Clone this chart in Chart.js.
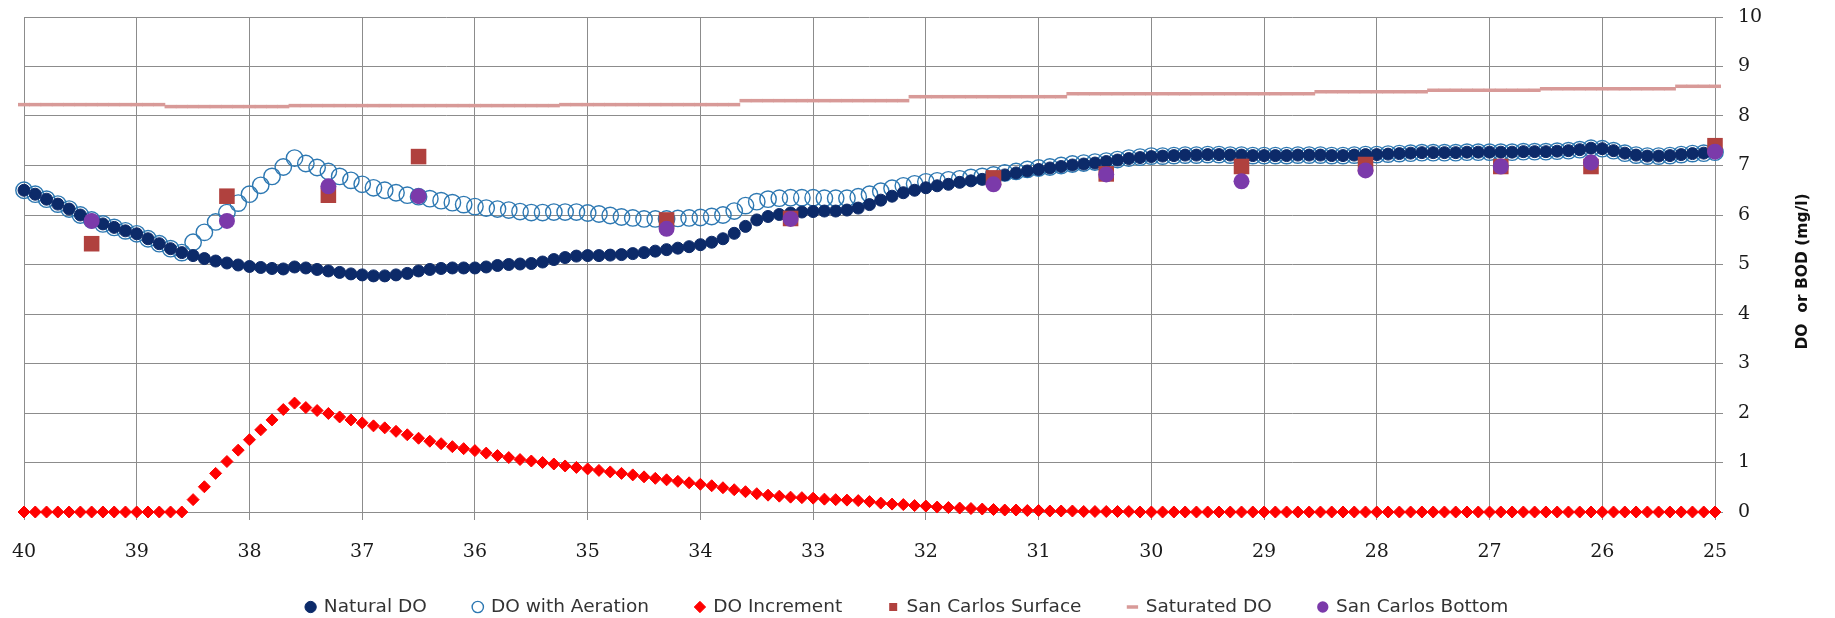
<!DOCTYPE html>
<html>
<head>
<meta charset="utf-8">
<script src="https://cdn.jsdelivr.net/npm/chart.js@4.4.1/dist/chart.umd.min.js"></script>
<style>
html,body{margin:0;padding:0;background:#fff;}
#wrap{width:1835px;height:618px;position:relative;}
canvas{display:block;}
</style>
</head>
<body>
<div id="wrap"><canvas id="c" width="1835" height="618"></canvas></div>
<script>
// River distance (km) of every modelled point, upstream (40) to downstream (25)
const km = [
  40.0,39.9,39.8,39.7,39.6,39.5,39.4,39.3,39.2,39.1,
  39.0,38.9,38.8,38.7,38.6,38.5,38.4,38.3,38.2,38.1,
  38.0,37.9,37.8,37.7,37.6,37.5,37.4,37.3,37.2,37.1,
  37.0,36.9,36.8,36.7,36.6,36.5,36.4,36.3,36.2,36.1,
  36.0,35.9,35.8,35.7,35.6,35.5,35.4,35.3,35.2,35.1,
  35.0,34.9,34.8,34.7,34.6,34.5,34.4,34.3,34.2,34.1,
  34.0,33.9,33.8,33.7,33.6,33.5,33.4,33.3,33.2,33.1,
  33.0,32.9,32.8,32.7,32.6,32.5,32.4,32.3,32.2,32.1,
  32.0,31.9,31.8,31.7,31.6,31.5,31.4,31.3,31.2,31.1,
  31.0,30.9,30.8,30.7,30.6,30.5,30.4,30.3,30.2,30.1,
  30.0,29.9,29.8,29.7,29.6,29.5,29.4,29.3,29.2,29.1,
  29.0,28.9,28.8,28.7,28.6,28.5,28.4,28.3,28.2,28.1,
  28.0,27.9,27.8,27.7,27.6,27.5,27.4,27.3,27.2,27.1,
  27.0,26.9,26.8,26.7,26.6,26.5,26.4,26.3,26.2,26.1,
  26.0,25.9,25.8,25.7,25.6,25.5,25.4,25.3,25.2,25.1,
  25.0
];

const naturalDO = [
  6.50,6.42,6.32,6.22,6.12,6.00,5.90,5.82,5.75,5.68,
  5.62,5.52,5.42,5.32,5.24,5.18,5.12,5.07,5.03,4.99,
  4.96,4.94,4.92,4.91,4.95,4.93,4.90,4.87,4.84,4.81,
  4.79,4.77,4.77,4.79,4.82,4.87,4.90,4.92,4.93,4.93,
  4.93,4.95,4.98,5.00,5.01,5.02,5.05,5.10,5.14,5.17,
  5.18,5.18,5.19,5.20,5.22,5.24,5.27,5.30,5.33,5.36,
  5.40,5.45,5.52,5.63,5.77,5.90,5.97,6.01,6.04,6.06,
  6.07,6.08,6.08,6.10,6.14,6.21,6.30,6.38,6.45,6.50,
  6.55,6.59,6.62,6.66,6.69,6.72,6.76,6.81,6.85,6.89,
  6.92,6.95,6.98,7.01,7.03,7.05,7.08,7.11,7.14,7.16,
  7.18,7.19,7.20,7.21,7.21,7.22,7.22,7.21,7.21,7.20,
  7.20,7.20,7.20,7.21,7.21,7.21,7.20,7.20,7.21,7.22,
  7.22,7.23,7.24,7.25,7.26,7.26,7.26,7.26,7.27,7.27,
  7.27,7.27,7.27,7.28,7.28,7.28,7.29,7.30,7.32,7.35,
  7.34,7.30,7.25,7.21,7.19,7.19,7.20,7.22,7.24,7.25,
  7.27
];

const aerationDO = [
  6.50,6.42,6.32,6.22,6.12,6.00,5.90,5.82,5.75,5.68,
  5.62,5.52,5.42,5.32,5.24,5.45,5.65,5.86,6.05,6.24,
  6.42,6.60,6.78,6.97,7.15,7.04,6.96,6.88,6.78,6.70,
  6.62,6.55,6.50,6.45,6.40,6.37,6.33,6.29,6.25,6.21,
  6.17,6.14,6.12,6.10,6.07,6.05,6.05,6.06,6.06,6.06,
  6.04,6.02,5.99,5.96,5.94,5.92,5.92,5.92,5.93,5.94,
  5.95,5.97,6.00,6.08,6.19,6.27,6.32,6.34,6.35,6.35,
  6.35,6.34,6.34,6.34,6.37,6.42,6.48,6.54,6.59,6.63,
  6.67,6.69,6.71,6.73,6.76,6.78,6.81,6.85,6.88,6.92,
  6.95,6.97,7.00,7.03,7.05,7.07,7.09,7.12,7.15,7.17,
  7.19,7.19,7.20,7.21,7.21,7.22,7.22,7.21,7.21,7.20,
  7.20,7.20,7.20,7.21,7.21,7.21,7.20,7.20,7.21,7.22,
  7.22,7.23,7.24,7.25,7.26,7.26,7.26,7.26,7.27,7.27,
  7.27,7.27,7.27,7.28,7.28,7.28,7.29,7.30,7.32,7.35,
  7.34,7.30,7.25,7.21,7.19,7.19,7.20,7.22,7.24,7.25,
  7.27
];

const doIncrement = [
  0,0,0,0,0,0,0,0,0,0,
  0,0,0,0,0,0.25,0.51,0.78,1.02,1.25,
  1.46,1.66,1.86,2.07,2.20,2.11,2.05,1.99,1.92,1.86,
  1.80,1.74,1.70,1.63,1.56,1.49,1.43,1.38,1.32,1.28,
  1.24,1.19,1.14,1.10,1.06,1.03,1.00,0.97,0.93,0.90,
  0.87,0.84,0.81,0.78,0.75,0.71,0.68,0.65,0.62,0.59,
  0.56,0.53,0.49,0.45,0.41,0.37,0.34,0.32,0.30,0.29,
  0.28,0.26,0.25,0.24,0.23,0.21,0.18,0.16,0.15,0.13,
  0.12,0.10,0.09,0.08,0.07,0.06,0.05,0.04,0.04,0.03,
  0.03,0.02,0.02,0.02,0.01,0.01,0.01,0.01,0.01,0,
  0,0,0,0,0,0,0,0,0,0,
  0,0,0,0,0,0,0,0,0,0,
  0,0,0,0,0,0,0,0,0,0,
  0,0,0,0,0,0,0,0,0,0,
  0,0,0,0,0,0,0,0,0,0,
  0
];

const saturatedDO = [
  8.23,8.23,8.23,8.23,8.23,8.23,8.23,8.23,8.23,8.23,
  8.23,8.23,8.23,8.19,8.19,8.19,8.19,8.19,8.19,8.19,
  8.19,8.19,8.19,8.19,8.21,8.21,8.21,8.21,8.21,8.21,
  8.21,8.21,8.21,8.21,8.21,8.21,8.21,8.21,8.21,8.21,
  8.21,8.21,8.21,8.21,8.21,8.21,8.21,8.21,8.23,8.23,
  8.23,8.23,8.23,8.23,8.23,8.23,8.23,8.23,8.23,8.23,
  8.23,8.23,8.23,8.23,8.31,8.31,8.31,8.31,8.31,8.31,
  8.31,8.31,8.31,8.31,8.31,8.31,8.31,8.31,8.31,8.39,
  8.39,8.39,8.39,8.39,8.39,8.39,8.39,8.39,8.39,8.39,
  8.39,8.39,8.39,8.45,8.45,8.45,8.45,8.45,8.45,8.45,
  8.45,8.45,8.45,8.45,8.45,8.45,8.45,8.45,8.45,8.45,
  8.45,8.45,8.45,8.45,8.45,8.49,8.49,8.49,8.49,8.49,
  8.49,8.49,8.49,8.49,8.49,8.52,8.52,8.52,8.52,8.52,
  8.52,8.52,8.52,8.52,8.52,8.55,8.55,8.55,8.55,8.55,
  8.55,8.55,8.55,8.55,8.55,8.55,8.55,8.60,8.60,8.60,
  8.60
];

// Field measurements at San Carlos stations
const obsKm = [39.4,38.2,37.3,36.5,34.3,33.2,31.4,30.4,29.2,28.1,26.9,26.1,25.0];
const sanCarlosSurface = [5.42,6.38,6.40,7.18,5.90,5.93,6.75,6.83,6.98,7.02,6.98,6.98,7.40];
const sanCarlosBottom  = [5.88,5.88,6.58,6.38,5.72,5.92,6.62,6.82,6.68,6.90,6.98,7.06,7.28];

const seriesNames = ['Natural DO','DO with Aeration','DO Increment','San Carlos Surface','Saturated DO','San Carlos Bottom'];
const xTicksMin = 25, xTicksMax = 40;
const yTicksMin = 0, yTicksMax = 10;
const yTitle = 'DO  or BOD (mg/l)';

function pts(xs, ys){ return xs.map((x,i)=>({x:x, y:ys[i]})); }

const NAVY = '#0c2a69', AER = '#2d78b2', RED = '#ff0000', BRICK = '#b0413e', PINK = '#d89a98', PURPLE = '#7b3aaa';
const GRID = '#8c8c8c';
const LEG_FONT = 18.5, LEG_PAD = 47, LEG_H = 56, LEG_CENTER = 607;

const yTitlePlugin = {
  id:'yTitle',
  afterDraw(chart){
    const c = chart.ctx, s = chart.scales.y;
    c.save();
    c.translate(s.left + 88, (s.top + s.bottom)/2 + 7);
    c.rotate(-Math.PI/2);
    c.font = 'bold 15.5px "DejaVu Sans"';
    c.fillStyle = '#111';
    c.textAlign = 'center';
    c.textBaseline = 'middle';
    c.fillText(yTitle, 0, 0);
    c.restore();
  }
};
const legendFix = {
  id:'legendFix',
  beforeLayout(chart){
    const l = chart.legend;
    if (l && !l._fixed){
      const f = l.fit;
      l.fit = function(){ f.call(this); this.height = LEG_H; };
      l._fixed = true;
    }
  },
  afterLayout(chart){
    const l = chart.legend;
    if(!l) return;
    const dy = LEG_CENTER - (l.top + LEG_PAD + LEG_FONT/2);
    l.top += dy;
    l.bottom = chart.height;
    l.height = l.bottom - l.top;
    l.left -= 22; l.right -= 22;
  }
};

new Chart(document.getElementById('c'), {
  type:'scatter',
  data:{
    datasets:[
      {label:seriesNames[0], data:pts(km, naturalDO), showLine:false, clip:false, pointStyle:'circle', pointRadius:6,
       backgroundColor:NAVY, borderColor:NAVY, borderWidth:1, order:2},
      {label:seriesNames[1], data:pts(km, aerationDO), showLine:false, clip:false, pointStyle:'circle', pointRadius:8.2,
       backgroundColor:'rgba(255,255,255,0)', borderColor:AER, borderWidth:1.4, order:3},
      {label:seriesNames[2], data:pts(km, doIncrement), showLine:false, clip:false, pointStyle:'rectRot', pointRadius:6,
       backgroundColor:RED, borderColor:RED, borderWidth:1, order:4},
      {label:seriesNames[3], data:pts(obsKm, sanCarlosSurface), showLine:false, clip:false, pointStyle:'rect', pointRadius:11,
       backgroundColor:BRICK, borderColor:BRICK, borderWidth:0, order:1},
      {label:seriesNames[4], data:pts(km, saturatedDO), showLine:false, clip:false, pointStyle:'line', pointRadius:6,
       backgroundColor:PINK, borderColor:PINK, borderWidth:3.5, order:5},
      {label:seriesNames[5], data:pts(obsKm, sanCarlosBottom), showLine:false, clip:false, pointStyle:'circle', pointRadius:8,
       backgroundColor:PURPLE, borderColor:PURPLE, borderWidth:0, order:0}
    ]
  },
  options:{
    responsive:false,
    animation:false,
    devicePixelRatio:1,
    layout:{padding:{left:24, top:17, right:0, bottom:0}},
    plugins:{
      legend:{
        position:'bottom',
        labels:{
          usePointStyle:true, boxWidth:8, boxHeight:8, padding:LEG_PAD, color:'#333',
          font:{family:'"DejaVu Sans"', size:LEG_FONT},
          sort:(a,b)=>a.datasetIndex-b.datasetIndex
        }
      },
      tooltip:{enabled:false}
    },
    scales:{
      x:{
        type:'linear', min:xTicksMin, max:xTicksMax, reverse:true,
        ticks:{stepSize:1, padding:21, color:'#1a1a1a', font:{family:'"DejaVu Serif"', size:19}, maxRotation:0},
        grid:{color:GRID, lineWidth:1, tickLength:8},
        border:{color:GRID},
        afterFit:(s)=>{ s.height = 50; s.paddingLeft = 12; s.paddingRight = 12; }
      },
      y:{
        position:'right', min:yTicksMin, max:yTicksMax,
        ticks:{stepSize:1, padding:15, color:'#1a1a1a', font:{family:'"DejaVu Serif"', size:19}},
        grid:{color:GRID, lineWidth:1, tickLength:8},
        border:{color:GRID},
        afterFit:(s)=>{ s.width = 120; s.paddingTop = 11; s.paddingBottom = 11; }
      }
    }
  },
  plugins:[yTitlePlugin, legendFix]
});
</script>
</body>
</html>
